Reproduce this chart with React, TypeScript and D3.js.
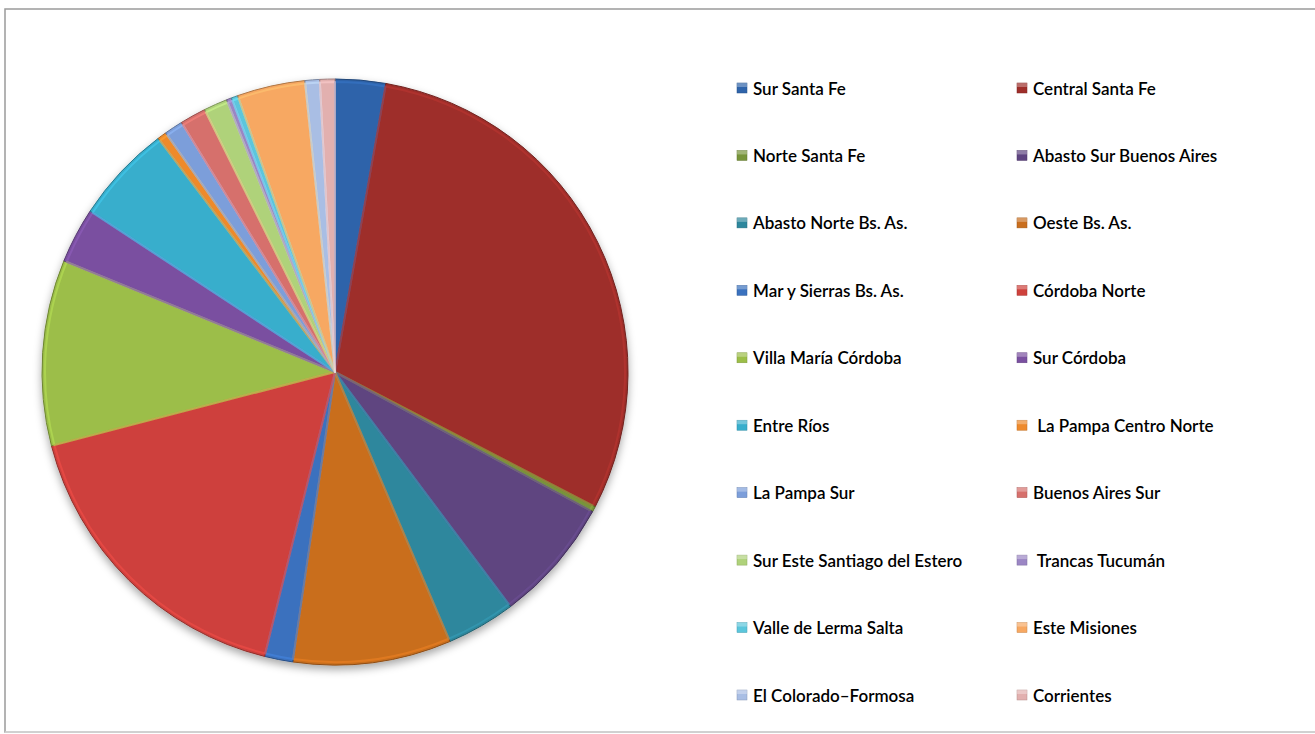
import React from "react";
import * as d3 from "d3";

const categories = [
  "Sur Santa Fe", "Central Santa Fe", "Norte Santa Fe", "Abasto Sur Buenos Aires",
  "Abasto Norte Bs. As.", "Oeste Bs. As.", "Mar y Sierras Bs. As.", "Córdoba Norte",
  "Villa María Córdoba", "Sur Córdoba", "Entre Ríos", " La Pampa Centro Norte",
  "La Pampa Sur", "Buenos Aires Sur", "Sur Este Santiago del Estero", " Trancas Tucumán",
  "Valle de Lerma Salta", "Este Misiones", "El Colorado–Formosa", "Corrientes",
];

const values = [
  2.78, 29.83, 0.3, 6.87, 3.81, 8.72, 1.56, 17.08, 10.25, 3.06,
  5.44, 0.5, 1.03, 1.44, 1.31, 0.28, 0.36, 3.75, 0.81, 0.83,
];

const colors = [
  "#2F64AA", "#9E2E2A", "#77943A", "#5E4480", "#2D879D", "#C96E1E",
  "#3A71BE", "#CE413C", "#9CBE48", "#7A50A0", "#38AECC", "#EE8A2C",
  "#7C9EDA", "#D6706C", "#AFD27A", "#9B86C4", "#5BC6DC", "#F7A862",
  "#A9BEE4", "#E2B0AF",
];

const W = 1315;
const H = 734;
const cx = 335;
const cy = 372;
const R = 293;

export default function App() {
  const pie = d3.pie<number>().sort(null).value((d) => d)(values);
  const arc = d3.arc<d3.PieArcDatum<number>>().innerRadius(0).outerRadius(R);
  const innerArc = d3.arc<d3.PieArcDatum<number>>().innerRadius(0).outerRadius(R - 3);

  const legendRows = Math.ceil(categories.length / 2);
  const rowY = d3.scaleLinear().domain([0, legendRows - 1]).range([88, 695]);
  const colX = [737, 1017];

  return (
    <svg
      width={W}
      height={H}
      style={{ position: "fixed", left: 0, top: 0, background: "#fff" }}
    >
      <defs>
        <filter id="shadow" x="-10%" y="-10%" width="120%" height="125%">
          <feDropShadow dx="0" dy="4" stdDeviation="4" floodColor="#000" floodOpacity="0.35" />
        </filter>
      </defs>
      <rect x={5} y={9} width={W + 10} height={723} fill="#fff" stroke="#9a9a9a" strokeWidth={1.5} />
      <line x1={5} x2={W} y1={732} y2={732} stroke="#eeeeee" strokeWidth={1} />

      <g transform={`translate(${cx},${cy})`}>
        <g filter="url(#shadow)">
          {pie.map((d, i) => (
            <path
              key={i}
              d={arc(d) || ""}
              fill={colors[i]}
              stroke={d3.color(colors[i])!.darker(1).formatHex()}
              strokeWidth={1}
              strokeLinejoin="round"
            />
          ))}
        </g>
        {pie.map((d, i) => (
          <path
            key={`h${i}`}
            d={innerArc(d) || ""}
            fill="none"
            stroke={d3.color(colors[i])!.brighter(0.5).formatHex()}
            strokeOpacity={0.55}
            strokeWidth={2}
            strokeLinejoin="round"
          />
        ))}
      </g>

      <g fontFamily="Lato, 'Open Sans', sans-serif" fontSize={17} fontWeight={600} fill="#000">
        {categories.map((c, i) => {
          const col = i % 2;
          const row = Math.floor(i / 2);
          const x = colX[col];
          const y = rowY(row);
          return (
            <g key={i}>
              <rect x={x} y={y - 5} width={10} height={10} fill={colors[i]} stroke={d3.color(colors[i])!.darker(0.6).formatHex()} strokeWidth={0.5} />
              <rect x={x} y={y - 5} width={10} height={4} fill="#fff" opacity={0.3} />
              <text x={x + 16} y={y} dominantBaseline="central" style={{ whiteSpace: "pre" }}>
                {c}
              </text>
            </g>
          );
        })}
      </g>
    </svg>
  );
}
